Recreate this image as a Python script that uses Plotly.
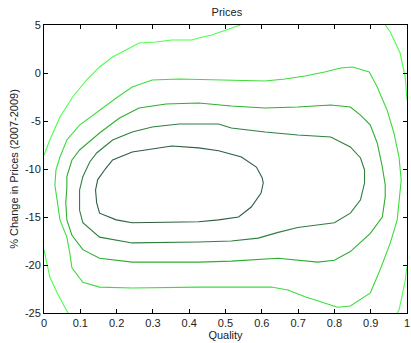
import plotly.graph_objects as go

# Contour levels (innermost -> outermost)
c1_x = [0.167, 0.189, 0.243, 0.352, 0.426, 0.481, 0.544, 0.585, 0.601, 0.604, 0.598, 0.571, 0.536, 0.481, 0.426, 0.243, 0.199, 0.153, 0.145, 0.142, 0.148, 0.167]
c1_y = [-10.1, -9.06, -8.23, -7.6, -7.8, -8.1, -8.75, -9.8, -10.9, -11.46, -12.5, -13.96, -15.0, -15.3, -15.5, -15.6, -15.3, -14.6, -13.5, -12.2, -11.1, -10.1]

c2_x = [0.107, 0.126, 0.145, 0.189, 0.243, 0.298, 0.372, 0.481, 0.516, 0.609, 0.699, 0.790, 0.844, 0.872, 0.883, 0.883, 0.872, 0.844, 0.800, 0.699, 0.645, 0.590, 0.516, 0.426, 0.243, 0.153, 0.107, 0.098, 0.098, 0.107]
c2_y = [-10.8, -9.27, -8.33, -6.98, -6.15, -5.63, -5.31, -5.31, -5.73, -6.15, -6.46, -6.67, -7.7, -8.85, -10.1, -11.46, -13.2, -14.6, -15.6, -16.1, -16.6, -17.2, -17.5, -17.6, -17.7, -17.1, -15.6, -14.3, -12.2, -10.8]

c3_x = [0.063, 0.063, 0.077, 0.098, 0.153, 0.208, 0.262, 0.336, 0.426, 0.516, 0.609, 0.699, 0.790, 0.844, 0.872, 0.899, 0.918, 0.932, 0.940, 0.940, 0.932, 0.899, 0.844, 0.800, 0.754, 0.699, 0.645, 0.516, 0.426, 0.243, 0.153, 0.107, 0.077, 0.063, 0.060, 0.063]
c3_y = [-11.9, -10.8, -9.06, -8.02, -6.25, -4.69, -3.65, -3.23, -3.13, -3.44, -3.65, -3.54, -3.33, -3.54, -4.38, -5.42, -7.29, -9.79, -11.67, -12.9, -15.0, -16.7, -18.6, -19.5, -19.7, -19.5, -19.3, -19.6, -19.7, -19.7, -19.3, -18.4, -16.9, -15.3, -13.5, -11.9]

c4_x = [0.030, 0.033, 0.044, 0.063, 0.098, 0.153, 0.199, 0.243, 0.298, 0.372, 0.481, 0.609, 0.664, 0.719, 0.773, 0.817, 0.850, 0.896, 0.918, 0.945, 0.964, 0.978, 0.984, 0.981, 0.973, 0.954, 0.926, 0.899, 0.863, 0.844, 0.809, 0.773, 0.719, 0.672, 0.626, 0.516, 0.426, 0.243, 0.153, 0.107, 0.077, 0.071, 0.063, 0.044, 0.036, 0.030]
c4_y = [-11.67, -10.1, -8.75, -6.98, -5.42, -3.85, -2.6, -1.46, -0.73, -0.63, -0.73, -0.83, -0.63, -0.31, 0.1, 0.52, 0.63, 0.1, -1.46, -3.85, -6.25, -8.75, -11.15, -12.2, -15.3, -17.7, -20.5, -22.9, -23.85, -24.27, -24.4, -23.96, -23.3, -22.6, -22.3, -22.3, -22.3, -22.4, -22.3, -21.8, -20.3, -18.75, -17.1, -15.3, -13.2, -11.67]

# Outermost level: clipped by the axes into four pieces
c5a_x = [0.0, 0.016, 0.044, 0.079, 0.117, 0.153, 0.189, 0.227, 0.262, 0.309, 0.352, 0.407, 0.426, 0.462, 0.503, 0.541]
c5a_y = [-8.54, -6.98, -4.58, -2.5, -0.73, 0.63, 1.67, 2.4, 3.13, 3.23, 3.44, 3.44, 3.65, 3.96, 4.48, 5.0]
c5b_x = [0.940, 0.954, 0.981, 0.995, 1.0]
c5b_y = [5.0, 4.27, 2.08, -0.42, -2.8]
c5c_x = [1.0, 0.995, 0.986, 0.978, 0.973]
c5c_y = [-20.2, -21.6, -23.3, -24.7, -25.0]
c5d_x = [0.0, 0.016, 0.036, 0.052, 0.066]
c5d_y = [-18.4, -21.25, -22.9, -23.96, -25.0]

x_ticks = [0, 0.1, 0.2, 0.3, 0.4, 0.5, 0.6, 0.7, 0.8, 0.9, 1]
x_labels = ["0", "0.1", "0.2", "0.3", "0.4", "0.5", "0.6", "0.7", "0.8", "0.9", "1"]
y_ticks = [5, 0, -5, -10, -15, -20, -25]
y_labels = ["5", "0", "-5", "-10", "-15", "-20", "-25"]

colors = ["#2f5e42", "#2f7f3f", "#2fae2f", "#3cdc3c", "#4cff4c"]

series = [
    (c1_x, c1_y, colors[0]),
    (c2_x, c2_y, colors[1]),
    (c3_x, c3_y, colors[2]),
    (c4_x, c4_y, colors[3]),
    (c5a_x, c5a_y, colors[4]),
    (c5b_x, c5b_y, colors[4]),
    (c5c_x, c5c_y, colors[4]),
    (c5d_x, c5d_y, colors[4]),
]

fig = go.Figure()
for xs, ys, col in series:
    fig.add_trace(go.Scatter(x=xs, y=ys, mode="lines",
                             line=dict(color=col, width=1.1),
                             showlegend=False, hoverinfo="skip", cliponaxis=True))

font = dict(family="Liberation Sans, Arial, sans-serif", size=11, color="#222222")
axis_common = dict(showgrid=False, zeroline=False, showline=True, linecolor="#000000",
                   linewidth=1, mirror="ticks", ticks="inside", ticklen=4,
                   tickcolor="#000000", tickfont=font, ticklabeloverflow="allow")

fig.update_layout(
    width=411, height=343,
    margin=dict(l=44, r=1, t=25, b=30),
    paper_bgcolor="white", plot_bgcolor="white",
    title=dict(text="Prices", x=0.552, xanchor="center", y=0.965, yanchor="middle",
               font=dict(family="Liberation Sans, Arial, sans-serif", size=11, color="#222222")),
    xaxis=dict(range=[0, 1], tickvals=x_ticks, ticktext=x_labels,
               title=dict(text="Quality", font=font, standoff=2), **axis_common),
    yaxis=dict(range=[-25, 5], tickvals=y_ticks, ticktext=y_labels,
               title=dict(text="% Change in Prices (2007-2009)", font=font, standoff=4), **axis_common),
)

fig.write_html("out.html")
